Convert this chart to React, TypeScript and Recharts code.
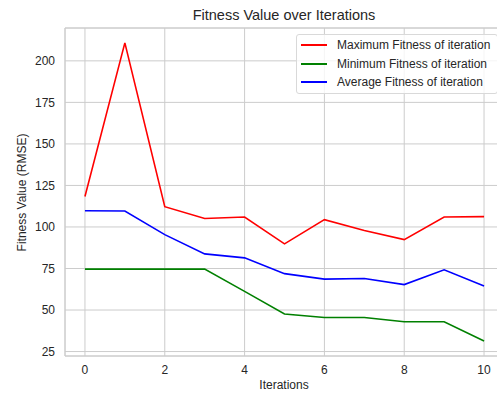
import React from "react";
import { LineChart, Line, XAxis, YAxis, CartesianGrid, ReferenceArea } from "recharts";

const iterations = [0, 1, 2, 3, 4, 5, 6, 7, 8, 9, 10];
const maxFitness = [118.3, 210.8, 112.2, 105.1, 106.0, 89.8, 104.4, 97.9, 92.4, 106.0, 106.2];
const minFitness = [74.6, 74.6, 74.6, 74.6, 61.2, 47.6, 45.5, 45.5, 42.9, 42.9, 31.3];
const avgFitness = [109.8, 109.6, 95.4, 83.8, 81.4, 71.9, 68.6, 69.0, 65.3, 74.2, 64.4];
const xTicks = [0, 2, 4, 6, 8, 10];
const yTicks = [25, 50, 75, 100, 125, 150, 175, 200];

const seriesDefs = [
  { key: "max", name: "Maximum Fitness of iteration", color: "#ff0000", values: maxFitness },
  { key: "min", name: "Minimum Fitness of iteration", color: "#008000", values: minFitness },
  { key: "avg", name: "Average Fitness of iteration", color: "#0000ff", values: avgFitness },
];

const data = iterations.map((it, i) => ({
  it,
  max: maxFitness[i],
  min: minFitness[i],
  avg: avgFitness[i],
}));

const all = [...maxFitness, ...minFitness, ...avgFitness];
const dMin = Math.min(...all);
const dMax = Math.max(...all);
const pad = (dMax - dMin) * 0.05;
const yDomain: [number, number] = [dMin - pad, dMax + pad];
const xDomain: [number, number] = [-0.5, 10.5];

const FONT = "'Liberation Sans', Arial, sans-serif";
const TXT = "#262626";

export default function App() {
  return (
    <div style={{ position: "absolute", left: 0, top: 0, width: 497, height: 395, overflow: "hidden", background: "#fff" }}>
      <LineChart
        width={520}
        height={395}
        data={data}
        margin={{ top: 28, right: 16, bottom: 38, left: 64 }}
        style={{ fontFamily: FONT }}
      >
        <CartesianGrid stroke="#cccccc" strokeWidth={1} />
        <XAxis
          dataKey="it"
          type="number"
          domain={xDomain}
          ticks={xTicks}
          allowDataOverflow
          height={1}
          axisLine={false}
          tickLine={false}
          tickSize={0}
          tickMargin={9}
          tick={{ fontSize: 12, fill: TXT, fontFamily: FONT }}
        />
        <YAxis
          type="number"
          domain={yDomain}
          ticks={yTicks}
          allowDataOverflow
          width={1}
          axisLine={false}
          tickLine={false}
          tickSize={0}
          tickMargin={10}
          tick={{ fontSize: 12, fill: TXT, fontFamily: FONT }}
        />
        <ReferenceArea
          x1={xDomain[0]}
          x2={xDomain[1]}
          y1={yDomain[0]}
          y2={yDomain[1]}
          fill="none"
          fillOpacity={0}
          stroke="#cccccc"
          strokeWidth={1}
          ifOverflow="visible"
        />
        {seriesDefs.map((s) => (
          <Line
            key={s.key}
            dataKey={s.key}
            name={s.name}
            stroke={s.color}
            strokeWidth={1.6}
            dot={false}
            activeDot={false}
            type="linear"
            isAnimationActive={false}
          />
        ))}
      </LineChart>
      <svg
        width={497}
        height={395}
        style={{ position: "absolute", left: 0, top: 0, pointerEvents: "none", fontFamily: FONT }}
      >
        <text x={284} y={20} textAnchor="middle" fontSize={14.5} fill={TXT}>
          Fitness Value over Iterations
        </text>
        <text x={284} y={389} textAnchor="middle" fontSize={12} fill={TXT}>
          Iterations
        </text>
        <text
          x={26}
          y={192.5}
          textAnchor="middle"
          fontSize={12}
          fill={TXT}
          transform="rotate(-90, 26, 192.5)"
        >
          Fitness Value (RMSE)
        </text>
      </svg>
      <div
        style={{
          position: "absolute",
          left: 296,
          top: 34,
          width: 202,
          height: 60,
          boxSizing: "border-box",
          border: "1px solid #d9d9d9",
          borderRadius: 3,
          background: "rgba(255,255,255,0.8)",
          fontFamily: FONT,
          fontSize: 12,
          color: TXT,
        }}
      >
        {seriesDefs.map((s, i) => (
          <div
            key={s.key}
            style={{ position: "absolute", left: 4, top: 3 + i * 18.7, height: 14, display: "flex", alignItems: "center", whiteSpace: "nowrap" }}
          >
            <div style={{ width: 26, height: 2, background: s.color }} />
            <span style={{ marginLeft: 10, lineHeight: "14px" }}>{s.name}</span>
          </div>
        ))}
      </div>
    </div>
  );
}
